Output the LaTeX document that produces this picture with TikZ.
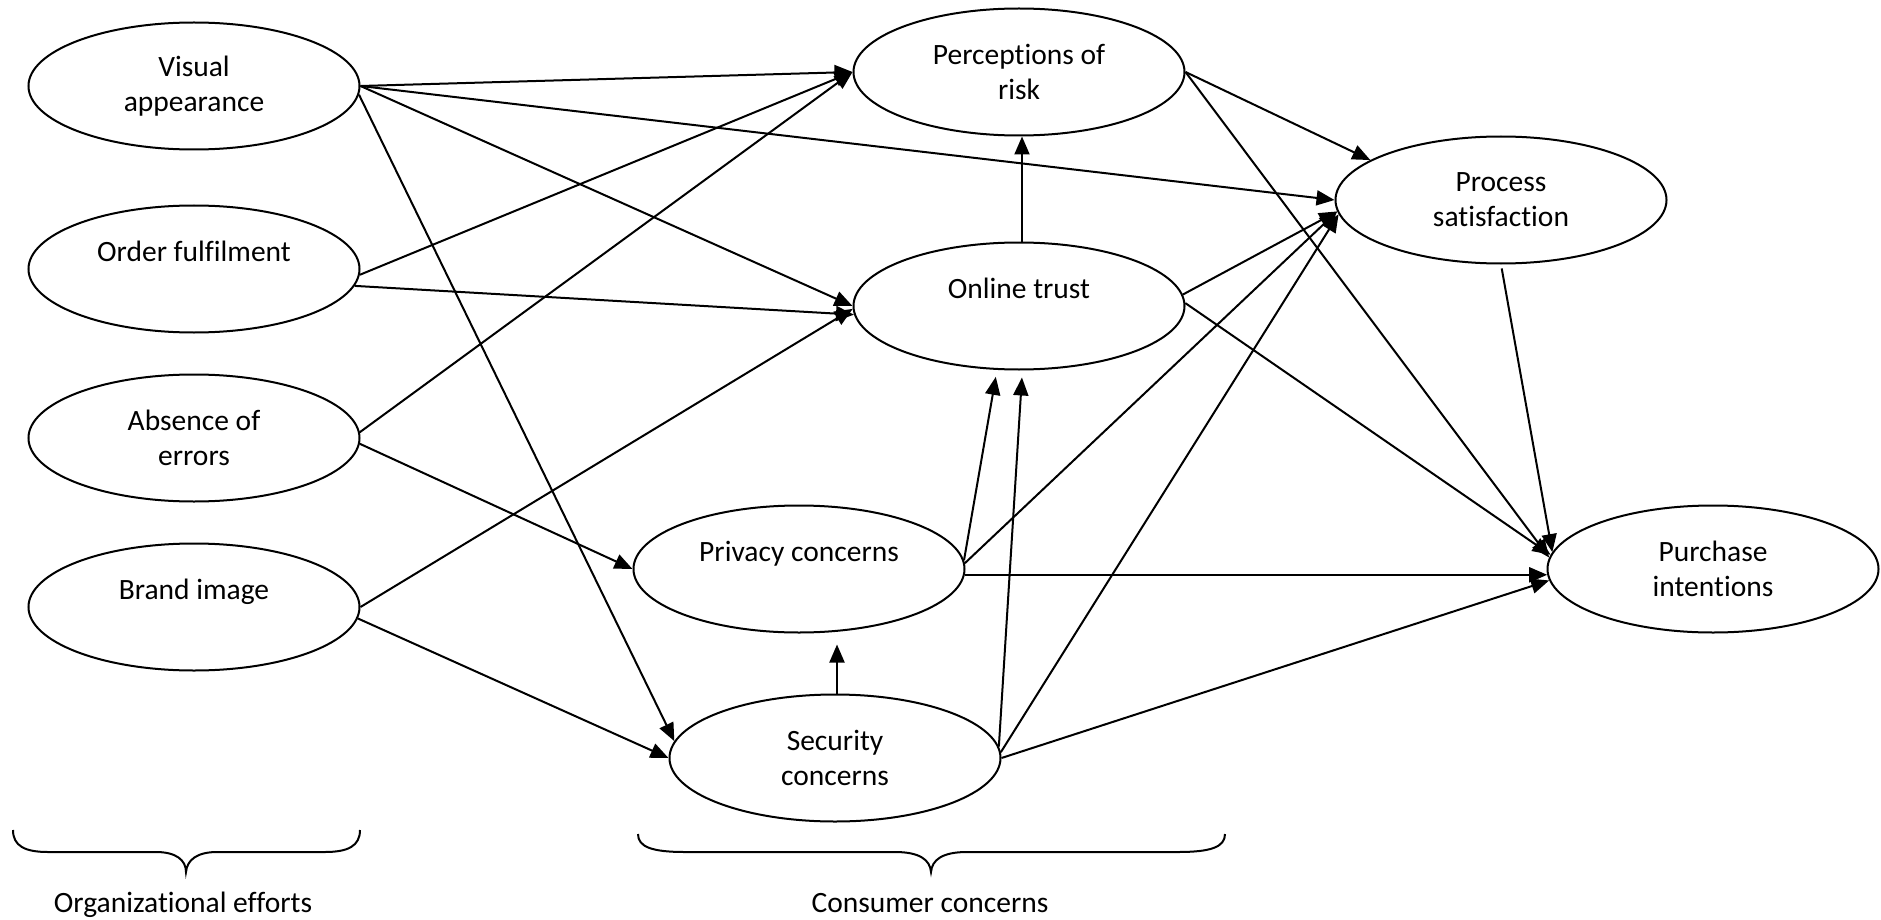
\documentclass[tikz,border=0pt]{standalone}
\usepackage{fontspec}
\setmainfont{Carlito}[Ligatures=NoCommon]
\usetikzlibrary{shapes.geometric,arrows.meta}
\begin{document}
\begin{tikzpicture}[x=1pt,y=-1pt,
  ell/.style={ellipse, draw, line width=2pt, minimum width=331pt, minimum height=127pt, inner sep=0pt, align=center, font=\fontsize{29.5}{35}\selectfont},
  arr/.style={line width=2pt, -{Triangle[length=18pt,width=15pt]}},
  brc/.style={line width=2pt},
  lbl/.style={font=\fontsize{29.5}{35}\selectfont, inner sep=0pt}]
\useasboundingbox (0,0) rectangle (1881,920);
% nodes
\node[ell] (va) at (194,86) {Visual\\appearance};
\node[ell] (of) at (194,269) {Order fulfilment\\\mbox{}};
\node[ell] (ae) at (194,438) {Absence of\\errors};
\node[ell] (bi) at (194,607) {Brand image\\\mbox{}};
\node[ell] (pr) at (1019,72) {Perceptions of\\risk};
\node[ell] (ot) at (1019,306) {Online trust\\\mbox{}};
\node[ell] (ps) at (1501,200) {Process\\satisfaction};
\node[ell] (pc) at (799,569) {Privacy concerns\\\mbox{}};
\node[ell] (sc) at (835,758) {Security\\concerns};
\node[ell] (pi) at (1713,569) {Purchase\\intentions};
% connectors
\draw[arr] (va.east) -- (pr.west);
\draw[arr] (va.east) -- (ps.west);
\draw[arr] (va.east) -- (ot.west);
\draw[arr] (va.-3) -- (sc.174);
\draw[arr] (of.-2) -- (pr.west);
\draw[arr] (of.-6) -- (ot.183);
\draw[arr] (ae.2) -- (pr.west);
\draw[arr] (ae.-2) -- (pc.west);
\draw[arr] (bi.east) -- (ot.181);
\draw[arr] (bi.-4) -- (sc.west);
\draw[arr] (pr.east) -- (ps.163);
\draw[arr] (pr.east) -- (pi.176);
\draw[arr] ([xshift=3pt]ot.north) -- ([xshift=3pt]ot.north |- pr.south);
\draw[arr] (ot.4) -- (ps.184);
\draw[arr] (ot.1) -- (pi.175);
\draw[arr, shorten <=4pt] (ps.south) -- (pi.174);
\draw[arr, shorten >=7pt] (pc.3) -- (ot.-109);
\draw[arr] (pc.2) -- (ps.184);
\draw[arr] (pc.-2) -- (pi.182);
\draw[arr, shorten >=11pt] ([xshift=2pt]sc.north) -- ([xshift=2pt]sc.north |- pc.south);
\draw[arr, shorten >=7pt] (sc.4) -- (ot.-87);
\draw[arr] (sc.2) -- (ps.185);
\draw[arr] (sc.east) -- (pi.184);
% braces
\draw[brc] (13,830) .. controls (13,846) and (25,852) .. (48,852) -- (156,852)
  .. controls (176,852) and (186,860) .. (186,872)
  .. controls (187,860) and (197,852) .. (217,852) -- (325,852)
  .. controls (348,852) and (360,846) .. (360,830);
\draw[brc] (638,834) .. controls (638,847) and (652,852) .. (685,852) -- (895,852)
  .. controls (920,852) and (930,860) .. (931,872)
  .. controls (932,860) and (942,852) .. (967,852) -- (1178,852)
  .. controls (1211,852) and (1225,847) .. (1225,834);
% labels
\node[lbl, anchor=base] (oe) at (183,912) {Organizational efforts};
\node[lbl, anchor=base] (cc) at (930,912) {Consumer concerns};
\end{tikzpicture}
\end{document}
